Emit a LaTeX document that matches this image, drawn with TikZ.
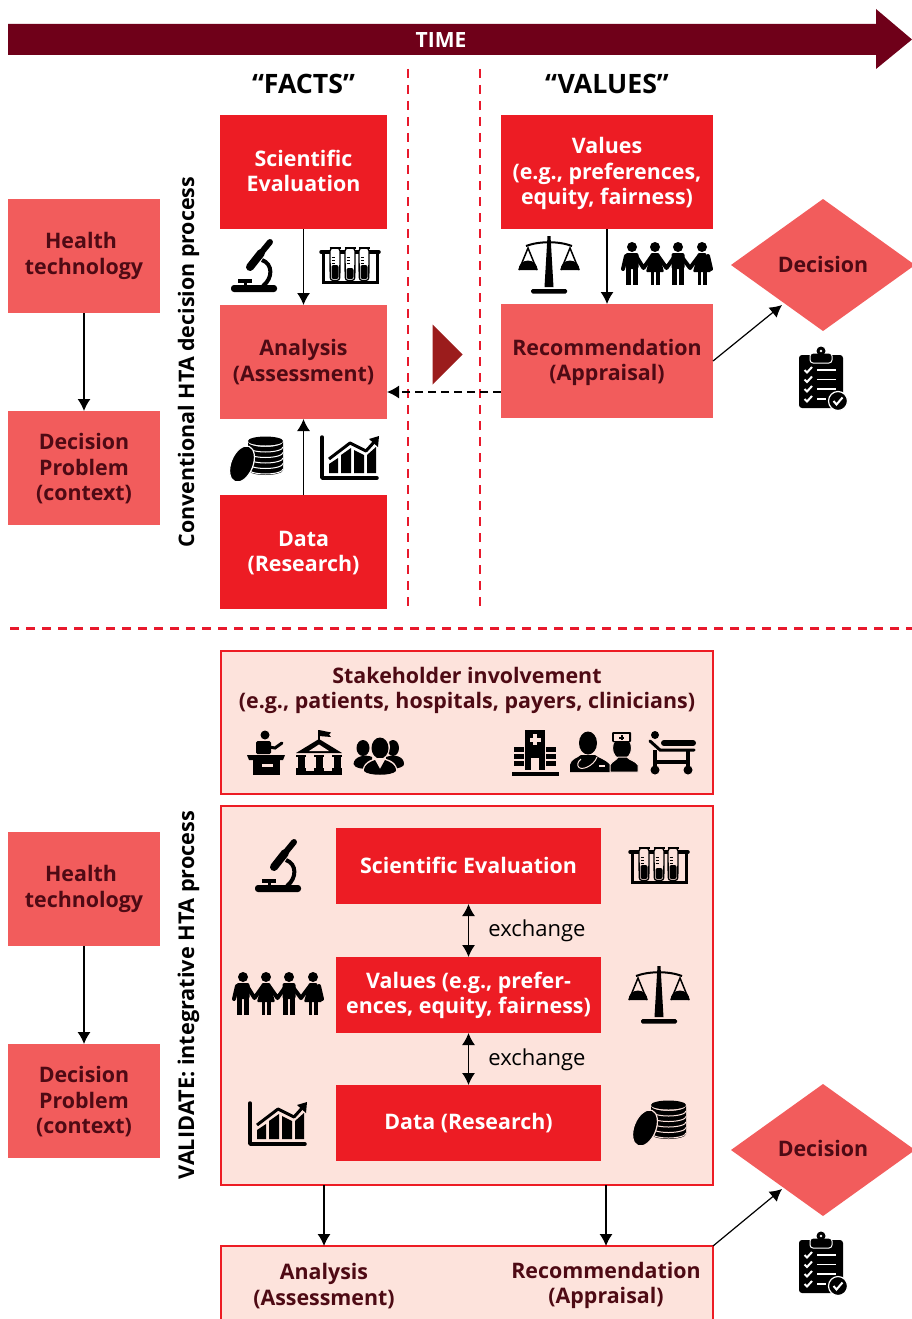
\documentclass[tikz,border=0pt]{standalone}
\usepackage{fontspec}
\setmainfont{Open Sans}
\usetikzlibrary{arrows.meta,shapes.geometric}
\definecolor{hred}{HTML}{ED1C24}
\definecolor{hsalmon}{HTML}{F25C5C}
\definecolor{hmaroon}{HTML}{6F0019}
\definecolor{hdark}{HTML}{4E0A14}
\definecolor{hpink}{HTML}{FDE3DC}
\definecolor{hdash}{HTML}{E8192C}
\definecolor{htri}{HTML}{9B1C1C}
\colorlet{iconbg}{white}
% text nudges: taller first line moves text down, deeper last line moves it up
\newcommand{\nudgedn}[1]{\rule{0pt}{\dimexpr 16.2pt+2\dimexpr #1pt\relax\relax}}
\newcommand{\nudgeup}[1]{\rule[-#1pt]{0pt}{0pt}}
\tikzset{
  x=1pt,y=-1pt,
  txt/.style={font=\fontsize{21.4}{25.5}\selectfont\bfseries,align=center,inner sep=0,outer sep=0},
  redbox/.style={txt,fill=hred,text=white,minimum width=#1},
  redbox/.default=167,
  salbox/.style={txt,fill=hsalmon,text=hdark,minimum width=#1},
  salbox/.default=167,
  tall/.style={minimum height=114},
  low/.style={minimum height=76},
  dec/.style={txt,diamond,fill=hsalmon,text=hdark,minimum width=184,minimum height=132,aspect=1.394},
  pinkbox/.style={fill=hpink,draw=hred,line width=2,minimum width=492,inner sep=0,outer sep=0},
  plain/.style={txt,text=hdark},
  conn/.style={line width=1.2,-{Latex[length=12,width=13]}},
  dconn/.style={line width=1.2,{Latex[length=12,width=13]}-{Latex[length=12,width=13]}},
  sep/.style={hdash,line width=2.2,dash pattern=on 9pt off 7pt},
  microscope/.pic={
    \fill[rounded corners=3] (-23,19) rectangle (23,26);
    \fill (-16,13) rectangle (-2,16.5);
    \fill (-10.5,16) rectangle (-7.5,20);
    \draw[line width=8,line cap=round] (-4,1)--(7,-13);
    \draw[line width=6,line cap=round] (7,-13)--(16,-24);
    \draw[line width=4] (8,-6) .. controls (19,-2) and (19,12) .. (9,20);
  },
  tubes/.pic={
    \draw[line width=3] (-27,-14) rectangle (27,16);
    \draw[line width=3.5,line cap=round] (-29,-14)--(29,-14);
    \foreach \xx/\lv in {-15/-1,0/2,14/-1}{
      \draw[line width=1.3,fill=iconbg,rounded corners=3] ({\xx-5},-18) -- ({\xx-4.8},14.5) -- ({\xx+4.8},14.5) -- ({\xx+5},-18) -- cycle;
      \fill[rounded corners=2] ({\xx-3.5},\lv) -- ({\xx-3.5},13) -- ({\xx+3.5},13) -- ({\xx+3.5},\lv) -- cycle;
      \draw[line width=1.5] ({\xx-5.5},-18)--({\xx+5.5},-18);
      \draw[line width=0.7] ({\xx-3.5},-9)--({\xx},-9) ({\xx-3.5},-6)--({\xx},-6) ({\xx-3.5},-3)--({\xx},-3);
    }
  },
  scalesicon/.pic={
    \fill (-1.5,-29) -- (1.5,-29) -- (4.5,22) -- (-4.5,22) -- cycle;
    \fill[rounded corners=1.5] (-18,24) rectangle (18,28.5);
    \draw[line width=2] (-23,-19) .. controls (-10,-24) and (10,-24) .. (23,-19);
    \foreach \xx in {-21,21}{
      \draw[line width=1.5] ({\xx-9},5) -- (\xx,-17) -- ({\xx+9},5);
      \fill ({\xx-9.5},5) arc[start angle=180,end angle=360,radius=9.5] -- cycle;
    }
  },
  manfig/.pic={
    \fill (0,-18) circle[radius=5];
    \fill[rounded corners=2] (-6.5,-12) rectangle (6.5,4);
    \fill (-6,2) rectangle (-0.6,20);
    \fill (0.6,2) rectangle (6,20);
  },
  womanfig/.pic={
    \fill (0,-18) circle[radius=5];
    \fill[rounded corners=1] (-4,-12) -- (4,-12) -- (9,7) -- (-9,7) -- cycle;
    \fill (-4.5,6) rectangle (-1.3,20);
    \fill (1.3,6) rectangle (4.5,20);
  },
  people/.pic={
    \draw[line width=4,line cap=round,line join=round] (-41,-9) -- (-44,4);
    \draw[line width=4,line cap=round,line join=round] (41,-9) -- (44,4);
    \draw[line width=4,line cap=round,line join=round] (-31,-9) -- (-23.5,3) -- (-15,-9);
    \draw[line width=4,line cap=round,line join=round] (-9,-9) -- (-0.5,3) -- (8,-9);
    \draw[line width=4,line cap=round,line join=round] (14,-9) -- (23,3) -- (32,-9);
    \pic at (-35,0) {manfig};
    \pic at (-12,0) {womanfig};
    \pic at (11,0) {manfig};
    \pic at (35,0) {womanfig};
  },
  coins/.pic={
    \foreach \yy in {11,5.5,0,-5.5,-11}{
      \fill (-8,\yy) -- (-8,{\yy-6}) arc[start angle=180,end angle=360,x radius=17.5,y radius=-5] -- (27,\yy) arc[start angle=0,end angle=180,x radius=17.5,y radius=5] -- cycle;
      \draw[iconbg,line width=1] (-8,{\yy-1}) arc[start angle=180,end angle=360,x radius=17.5,y radius=-5];
    }
    \fill (9.5,-18) ellipse[x radius=17.5,y radius=4.5];
    \filldraw[draw=iconbg,line width=1.2] (-14,5) ellipse[x radius=11,y radius=19,rotate=-22];
  },
  chart/.pic={
    \draw[line width=3.5,line cap=round,line join=round] (-28,-21) -- (-28,20) -- (27,20);
    \fill (-21,15) -- (-21,6) -- (-12,0) -- (-12,15) -- cycle;
    \fill (-9,15) -- (-9,-3) -- (1,-10) -- (1,15) -- cycle;
    \fill (4,15) -- (4,-8) -- (14,-3) -- (14,15) -- cycle;
    \fill (17,15) -- (17,-3) -- (26,-11) -- (26,15) -- cycle;
    \draw[line width=3,line join=round] (-21,1) -- (0,-15) -- (16,-7) -- (25,-17);
    \fill (29,-22) -- (28,-11) -- (19,-19) -- cycle;
  },
  podium/.pic={
    \fill (-1,-17) circle[radius=4.5];
    \fill[rounded corners=1.5] (-10,-11) rectangle (5,2);
    \draw[line width=3,line cap=round] (3,-5) -- (9,-4) -- (16,-9);
    \fill (-19,3) -- (19,3) -- (17,8) -- (-17,8) -- cycle;
    \fill (-13,8) rectangle (14,23);
    \fill[iconbg] (-4,12) rectangle (7,15);
  },
  bank/.pic={
    \draw[line width=1.4] (0,-22) -- (0,-11);
    \fill (0,-22) -- (12,-19.5) -- (10,-17.5) -- (12,-15) -- (0,-16) -- cycle;
    \fill (0,-13) -- (23,1) -- (-23,1) -- cycle;
    \fill[iconbg] (0,-7.5) -- (10,-1) -- (-10,-1) -- cycle;
    \foreach \xx in {-18,0,18}{
      \fill ({\xx-5},2.5) rectangle ({\xx+5},5);
      \fill ({\xx-3.5},4) rectangle ({\xx+3.5},17);
      \fill ({\xx-5},16) rectangle ({\xx+5},19);
    }
    \fill (-23,19) rectangle (23,23);
  },
  groupicon/.pic={
    \fill (-15,-9) ellipse[x radius=6.5,y radius=8];
    \fill (15,-9) ellipse[x radius=6,y radius=8];
    \fill (-24.5,7) .. controls (-24,-1) and (-12,-3) .. (-6,0) -- (-6,11) .. controls (-14,13) and (-24,11) .. (-24.5,7) -- cycle;
    \fill (26,7) .. controls (26,-1) and (16,-3) .. (8,0) -- (8,11) .. controls (14,13) and (26,11) .. (26,7) -- cycle;
    \fill[iconbg] (2,-10) ellipse[x radius=10,y radius=12];
    \fill (2,-9) ellipse[x radius=8.5,y radius=10.5];
    \fill[iconbg] (-16,18) .. controls (-16,5) and (-8,2) .. (2,1) .. controls (12,2) and (20,5) .. (20,18) -- cycle;
    \fill (-14,14) .. controls (-14,7) and (-8,5) .. (-3,3) -- (2,12) -- (7,3) .. controls (12,5) and (18,7) .. (18,14) .. controls (14,19) and (-10,19) .. (-14,14) -- cycle;
  },
  hospital/.pic={
    \fill (-10,-22) rectangle (10,18);
    \fill[iconbg] (-2,-18) rectangle (2,-7);
    \fill[iconbg] (-5.5,-14.5) rectangle (5.5,-10.5);
    \fill[iconbg] (-4,6) rectangle (4,18);
    \foreach \s in {-1,1}{
      \foreach \yy in {-5,2,9}{
        \fill ({\s*11},\yy) rectangle ({\s*21},{\yy+5});
      }
    }
    \fill (-23,20) rectangle (24,24);
  },
  doctors/.pic={
    \fill (-16,-9) ellipse[x radius=9,y radius=11.5];
    \fill (-34,20) -- (-34,13) .. controls (-33,7) and (-26,6) .. (-23,3) -- (-9,3) .. controls (-6,6) and (1,7) .. (6,13) -- (6,20) -- cycle;
    \draw[iconbg,line width=1] (-7,5) .. controls (-10,14) and (-24,20) .. (-26,14) .. controls (-27,10) and (-24,8) .. (-23,7);
    \fill[iconbg] (-5,13) rectangle (1,14.5);
    \fill[iconbg] (26,13) rectangle (20,14.5);
    \fill[draw=iconbg,line width=1] (18,-4) ellipse[x radius=9.5,y radius=11.5];
    \fill[draw=iconbg,line width=1] (6,20) -- (6,13) .. controls (8,9) and (13,8) .. (14,5) -- (23,5) .. controls (25,8) and (32,9) .. (34,13) -- (34,20) -- cycle;
    \fill[rounded corners=1] (8,-20) -- (27,-20) -- (27,-10) -- (8,-10) -- cycle;
    \fill[iconbg] (10,-18) -- (25,-18) -- (25,-11) -- (10,-11) -- cycle;
    \fill (16.5,-17) rectangle (18.5,-12);
    \fill (15,-15.5) rectangle (20,-13.5);
  },
  bedicon/.pic={
    \fill (-17,-17) circle[radius=4];
    \draw[line width=6,line cap=round] (-8,-9) -- (21,-9);
    \draw[line width=3,line cap=round] (-22,-11) -- (-12,-2) -- (22,-2);
    \draw[line width=4] (-17,-2) -- (-17,17);
    \draw[line width=4] (16,-2) -- (16,17);
    \draw[line width=3.5] (-17,10) -- (16,10);
    \fill (-17,18) circle[radius=4.5];
    \fill (16,18) circle[radius=4.5];
  },
  clipboard/.pic={
    \fill[rounded corners=3] (-22,-23) rectangle (22,30);
    \fill[draw=white,line width=1,rounded corners=3] (-11,-25) rectangle (11,-15);
    \fill (0,-27) circle[radius=4.5];
    \fill[white] (0,-27) circle[radius=1.4];
    \foreach \yy in {-8,1.5,11,21}{
      \draw[white,line width=2,line join=miter] (-16.5,\yy) -- (-14,{\yy+2.5}) -- (-9,{\yy-3});
    }
    \foreach \yy in {-8,1.5,11}{
      \draw[white,line width=1.6] (-4,\yy) -- (15,\yy);
    }
    \draw[white,line width=1.6] (-4,21) -- (5,21);
    \fill[draw=white,line width=1.2] (17,23) circle[radius=9.5];
    \draw[white,line width=2] (12.5,23) -- (15.5,26.5) -- (21.5,19.5);
  },
}
\begin{document}
\begin{tikzpicture}
\useasboundingbox (0,0) rectangle (912,1319);
\fill[white] (0,0) rectangle (912,1319);
% time arrow
\fill[hmaroon] (8,24) -- (876,24) -- (876,9) -- (912,39.5) -- (876,69) -- (876,55) -- (8,55) -- cycle;
\node[txt,text=white,font=\fontsize{21}{25}\selectfont\bfseries] (time) at (441,40) {TIME};
% separators
\coordinate (s1a) at (408,69); \coordinate (s1b) at (408,610);
\coordinate (s2a) at (480,69); \coordinate (s2b) at (480,610);
\coordinate (s3a) at (10,628.5); \coordinate (s3b) at (912,628.5);
\draw[sep] (s1a) -- (s1b);
\draw[sep] (s2a) -- (s2b);
\draw[sep] (s3a) -- (s3b);
\node[txt,text=black,font=\fontsize{26.7}{30}\selectfont\bfseries] (facts) at (303.5,84) {“FACTS”};
\node[txt,text=black,font=\fontsize{26.7}{30}\selectfont\bfseries] (values) at (607,84) {“VALUES”};
% upper part
\node[redbox,tall] (sci1) at (303.5,172) {Scientific\\Evaluation\nudgeup{2}};
\node[redbox=212,tall] (val1) at (607,172) {\nudgedn{1.5}Values\\(e.g., preferences,\\equity, fairness)};
\node[salbox,tall] (ana1) at (303.5,362) {Analysis\\(Assessment)};
\node[salbox=212,tall] (rec1) at (607,361) {\nudgedn{1.7}Recommendation\\(Appraisal)};
\node[redbox,tall] (dat1) at (303.5,552) {\nudgedn{0.7}Data\\(Research)};
\node[salbox=152,tall] (hea1) at (84,256) {Health\kern6pt\\technology};
\node[salbox=152,tall] (pro1) at (84,468) {\nudgedn{0.7}Decision\\Problem\\(context)};
\node[dec] (dec1) at (823,265) {Decision\nudgeup{2}};
\node[txt,rotate=90,text=black,font=\fontsize{21.4}{25}\selectfont\bfseries] (lab1) at (188.5,362) {Conventional HTA decision process};
\node[fill=htri,isosceles triangle,isosceles triangle apex angle=90,inner sep=0,minimum height=30,minimum width=37,outer sep=0,shape border rotate=0] (tri) at (445,354.5) {};
\coordinate (d1) at (782,305);
\coordinate (d2) at (782,1189);
\draw[conn] (hea1) -- (pro1);
\draw[conn] (sci1) -- (ana1);
\draw[conn] (val1) -- (rec1);
\draw[conn] (dat1) -- (ana1);
\draw[line width=1.2,dash pattern=on 8pt off 5pt,-{Latex[length=12,width=13]}] ([yshift=-31pt]rec1.west) -- ([yshift=-30pt]ana1.east);
\draw[conn] (rec1.east) -- (d1);
\pic at (254,266) {microscope};
\pic at (350,266) {tubes};
\pic at (549,265) {scalesicon};
\pic at (667,265) {people};
\pic at (256,459) {coins};
\pic at (350,458) {chart};
\pic at (821,378) {clipboard};
% lower part
\node[pinkbox,minimum height=143,anchor=north west] (sta) at (221,651) {};
\node[plain] (statext) at (467,690.5) {Stakeholder involvement\\(e.g., patients, hospitals, payers, clinicians)};
\node[pinkbox,minimum height=379,anchor=north west] (mai) at (221,806) {};
\fill[hpink] (221,1246) rectangle (713,1319);
\coordinate (bl) at (221,1319); \coordinate (br) at (713,1319);
\coordinate (btl) at (221,1246); \coordinate (btr) at (713,1246);
\draw[hred,line width=2] (bl) -- (btl) -- (btr) -- (br);
\node[plain] (ana2) at (324,1286) {Analysis\\(Assessment)};
\node[plain] (rec2) at (606,1285.5) {Recommendation\\(Appraisal)};
\node[redbox=265,low] (sci2) at (468.5,866) {Scientific Evaluation\nudgeup{2}};
\node[redbox=265,low] (val2) at (468.5,995) {\nudgedn{0.7}Values (e.g., prefer-\\ences, equity, fairness)};
\node[redbox=265,low] (dat2) at (468.5,1123) {Data (Research)};
\node[txt,text=black,font=\fontsize{22}{25}\selectfont] (ex1) at (537,931) {exchange};
\node[txt,text=black,font=\fontsize{22}{25}\selectfont] (ex2) at (537,1060) {exchange};
\node[salbox=152,tall] (hea2) at (84,889) {Health\kern6pt\\technology};
\node[salbox=152,tall] (pro2) at (84,1101) {\nudgedn{1}Decision\\Problem\\(context)};
\node[dec] (dec2) at (823,1150) {Decision\nudgeup{4}};
\node[txt,rotate=90,text=black,font=\fontsize{21.7}{25}\selectfont\bfseries] (lab2) at (188.5,995) {VALIDATE: integrative HTA process};
\draw[conn] (hea2) -- (pro2);
\draw[dconn] (sci2) -- (val2);
\draw[dconn] (val2) -- (dat2);
\draw[conn] (mai.south -| ana2) -- (btl -| ana2);
\draw[conn] (mai.south -| rec2) -- (btl -| rec2);
\draw[conn] (btr) -- (d2);
\begin{scope}
\colorlet{iconbg}{hpink}
\pic at (266,752) {podium};
\pic at (319,752) {bank};
\pic at (378,757) {groupicon};
\pic at (535,752) {hospital};
\pic at (604,752) {doctors};
\pic at (672,752) {bedicon};
\pic at (278,866) {microscope};
\pic at (659,866) {tubes};
\pic at (278,995) {people};
\pic at (659,995) {scalesicon};
\pic at (278,1124) {chart};
\pic at (659,1123) {coins};
\end{scope}
\pic at (821,1263) {clipboard};
\end{tikzpicture}
\end{document}
